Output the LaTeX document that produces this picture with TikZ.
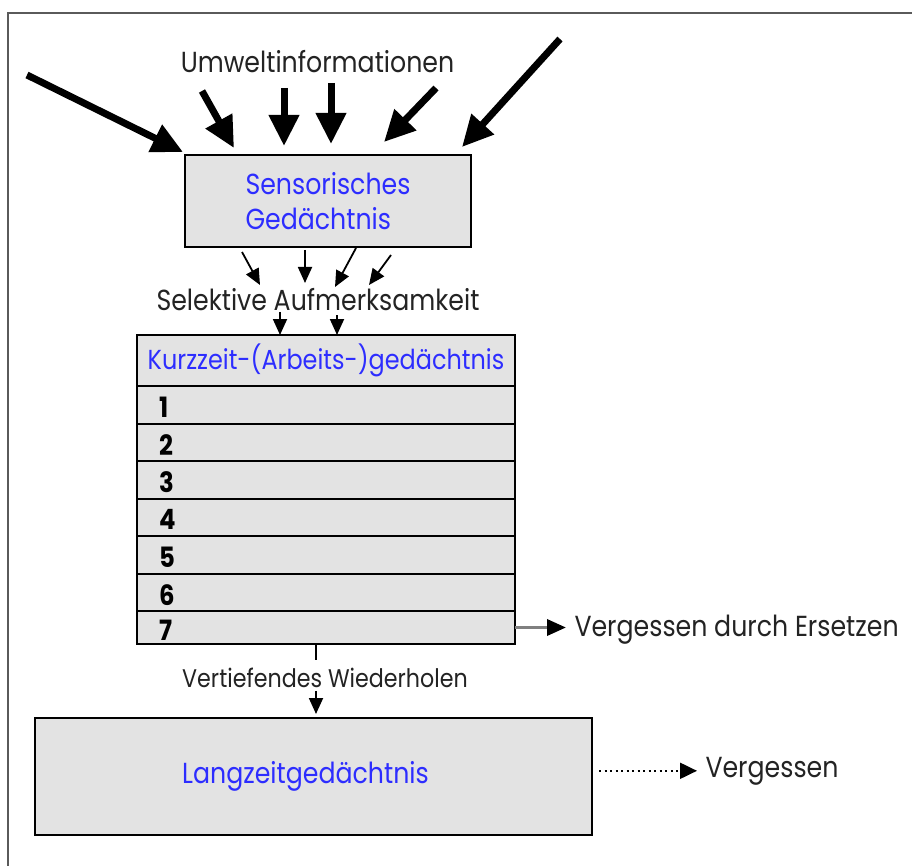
\documentclass[tikz,border=0pt]{standalone}
\usepackage{fontspec}
\setmainfont[FakeStretch=0.87]{Poppins}
\usetikzlibrary{positioning,arrows.meta}

\definecolor{memfill}{RGB}{227,227,227}
\definecolor{memblue}{RGB}{45,45,255}
\definecolor{txtgray}{RGB}{35,35,35}
\definecolor{framegray}{RGB}{90,90,90}

\tikzset{
  every label text/.style={text=txtgray, font=\fontsize{29}{35}\selectfont},
  memory/.style={draw=black, line width=2pt, fill=memfill, inner sep=0pt,
    outer sep=0pt, text=memblue, font=\fontsize{29}{35}\selectfont},
  slot/.style={memory, minimum width=378pt, minimum height=37.5pt},
  slot 7/.style={minimum height=33pt},
  num/.style={inner sep=0pt, text=black, font=\fontsize{28}{30}\selectfont\bfseries},
  bigin/.style={line width=7pt, -{Triangle[length=31pt,width=29pt]}},
  smallin/.style={line width=1.8pt, -{Triangle[length=16pt,width=14pt]}},
  lostarrow/.style={line width=3.5pt, draw=gray,
    -{Triangle[length=19pt,width=16pt,color=black]}},
  dotarrow/.style={line width=2pt, dash pattern=on 2pt off 3.5pt,
    -{Triangle[length=17pt,width=16pt]}}
}

\begin{document}
\begin{tikzpicture}[x=1pt, y=-1pt]

\useasboundingbox (0,0) rectangle (912,866);
\clip (0,0) rectangle (912,866);
\fill[white] (0,0) rectangle (912,866);
\draw[framegray, line width=1.5pt] (8,13) rectangle (960,920);

% memory stores
\node [memory, minimum width=286pt, minimum height=92pt, align=left]
  (sens) at (328,201) {Sensorisches\\Gedächtnis\hspace*{12pt}};

\node [memory, minimum width=378pt, minimum height=51pt, alias=slot-0,
  font=\fontsize{27.5}{33}\selectfont]
  (kzg) at (326,360.5) {Kurzzeit-(Arbeits-)gedächtnis};

\foreach \i [remember=\i as \prev (initially 0)] in {1,...,7}
  \node [slot, slot \i/.try, below=0pt of slot-\prev] (slot-\i) {};

\foreach \i in {1,...,7}
  \node [num, anchor=west] (num-\i) at ([xshift=22pt,yshift=-2.5pt]slot-\i.west) {\i};

\node [memory, minimum width=557pt, minimum height=117pt]
  (ltm) at (313.5,776.5) {Langzeitgedächtnis\hspace*{16pt}};

% labels
\node [every label text/.try, anchor=base] (env) at (317.5,73) {Umweltinformationen};
\node [every label text/.try, anchor=base] (sel) at (318,311) {Selektive Aufmerksamkeit};
\node [every label text/.try, anchor=base, font=\fontsize{25.5}{30}\selectfont]
  (wdh) at (325,687) {Vertiefendes Wiederholen};
\node [every label text/.try, anchor=base west] (ers) at (571,636) {Vergessen durch Ersetzen};
\node [every label text/.try, anchor=base west] (vgs) at (702,777) {Vergessen};

% incoming information
\foreach \sx/\sy [count=\i] in {27/75, 202/91, 284/88, 331/83, 436/88, 560/39}
  \coordinate (info-\i) at (\sx,\sy);

\foreach \tx/\ty [count=\i] in {-2/3, 49/7, 99/9, 146/11, 199/13, 277/8}
  \draw [bigin] (info-\i) -- ([xshift=\tx,yshift=\ty]sens.north west);

% selective attention
\foreach \sx/\sy [count=\i] in {260/285, 305/283, 335/287, 369/285}
  \coordinate (attn-\i) at (\sx,\sy);

\foreach \tx/\ty [count=\i] in {57/-5, 120/-3, 171/-1, 206/-8}
  \draw [smallin] ([xshift=\tx,yshift=\ty]sens.south west) -- (attn-\i);

\foreach \sx/\sy [count=\i] in {280/312, 337/315}
  \coordinate (focus-\i) at (\sx,\sy);

\foreach \i in {1,2}
  \draw [smallin] (focus-\i) -- (focus-\i |- kzg.north);

% rehearsal and forgetting
\draw [line width=1.8pt] ([xshift=-10pt]slot-7.south) -- ++(0,16);
\draw [smallin, shorten >=4pt] ([xshift=-9pt]wdh.south) -- ([xshift=-9pt]wdh.south |- ltm.north);

\draw [lostarrow, shorten >=5pt] (slot-7.east) -- (slot-7.east -| ers.west);
\draw [dotarrow, shorten <=7pt, shorten >=5pt] (ltm.east |- vgs.west) -- (vgs.west);

\end{tikzpicture}
\end{document}
